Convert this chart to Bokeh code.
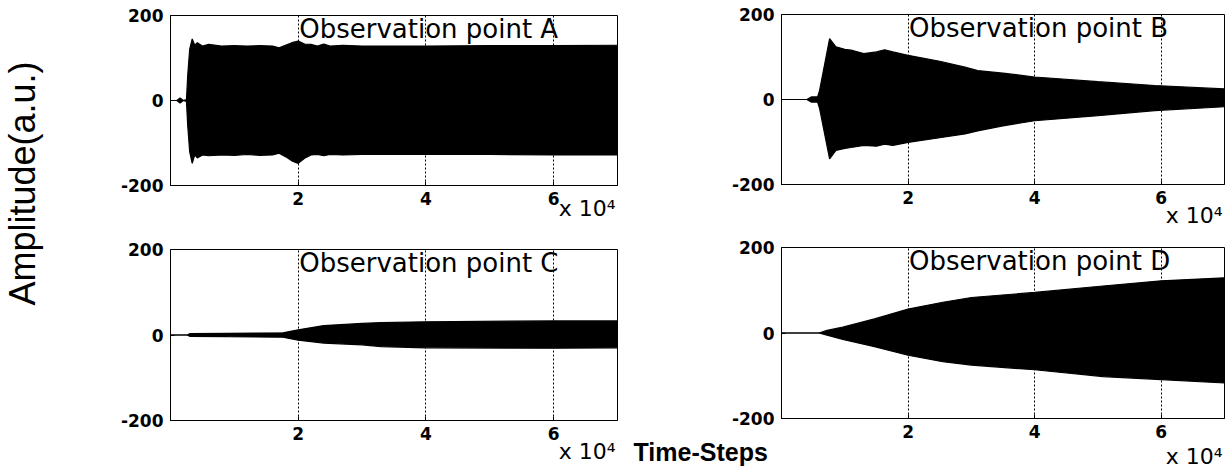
from math import pi
from bokeh.plotting import figure
from bokeh.models import Range1d, FixedTicker, Label, Title
from bokeh.layouts import row, column
from bokeh.embed import file_html
from bokeh.resources import INLINE

# ---------------- data (envelopes) ----------------
t_A = [0, 1000, 1500, 2000, 2500, 2700, 3000, 3400, 3800, 4200, 5000, 6000, 8000, 10000,
       12000, 14000, 16000, 17000, 18000, 19000, 20000, 21000, 22000, 23000, 24000, 25000,
       27000, 30000, 40000, 50000, 60000, 70000]
up_A = [0, 0, 6, 0, 2, 60, 120, 145, 130, 136, 128, 132, 128, 129,
        128, 129, 128, 124, 130, 136, 140, 133, 132, 128, 133, 128,
        130, 128, 128, 129, 129, 130]
lo_A = [0, 0, -6, 0, -2, -60, -120, -148, -128, -135, -128, -130, -128, -129,
        -127, -129, -128, -124, -132, -142, -148, -136, -128, -127, -130, -127,
        -128, -127, -127, -127, -128, -128]

t_B = [0, 4000, 4700, 5700, 6000, 7600, 8600, 10000, 11000, 13000, 15000, 16300, 17600,
       20000, 25000, 29000, 31000, 35000, 40000, 50000, 59000, 70000]
up_B = [0, 0, 6, 6, 20, 143, 124, 118, 116, 108, 112, 117, 112,
        104, 90, 76, 68, 62, 53, 42, 33, 25]
lo_B = [0, 0, -6, -6, -20, -140, -120, -115, -113, -108, -110, -105, -108,
        -101, -90, -81, -74, -62, -50, -38, -26, -17]

t_C = [0, 2600, 3000, 9000, 17600, 20000, 24000, 30000, 33000, 40000, 60000, 70000]
up_C = [0, 0, 3, 4, 5, 12, 22, 27, 29, 31, 33, 33]
lo_C = [0, 0, -3, -4, -5, -12, -19, -23, -27, -30, -31, -30]

t_D = [0, 5900, 7200, 9700, 14700, 20000, 25500, 30000, 40000, 50800, 60000, 70000]
up_D = [0, 0, 6, 14, 33, 56, 72, 83, 95, 110, 122, 129]
lo_D = [0, 0, -5, -15, -32, -52, -67, -75, -86, -102, -109, -117]

titles = ["Observation point A", "Observation point B",
          "Observation point C", "Observation point D"]
x_ticks = [20000, 40000, 60000]
x_tick_labels = ["2", "4", "6"]
y_ticks = [-200, 0, 200]
y_tick_labels = ["-200", "0", "200"]
x_max = 70000
y_label = "Amplitude(a.u.)"
x_label = "Time-Steps"
exp_label = "x 10\u2074"

TICK_FONT = "DejaVu Sans"


def panel(t, up, lo, title, width, height, bl, br, bt, bb):
    p = figure(width=width, height=height,
               x_range=Range1d(0, x_max), y_range=Range1d(-200, 200),
               output_backend="svg", toolbar_location=None,
               min_border_left=bl, min_border_right=br,
               min_border_top=bt, min_border_bottom=bb)
    p.background_fill_color = "white"
    p.border_fill_color = "white"
    p.outline_line_color = "black"
    p.outline_line_width = 1
    p.outline_line_alpha = 1

    p.varea(x=t, y1=lo, y2=up, fill_color="black")
    p.line(t, up, line_color="black", line_width=1.2)
    p.line(t, lo, line_color="black", line_width=1.2)

    for ax in (p.xaxis[0], p.yaxis[0]):
        ax.axis_line_color = "black"
        ax.major_tick_line_color = "black"
        ax.major_tick_in = 4
        ax.major_tick_out = 0
        ax.minor_tick_line_color = None
        ax.major_label_text_font = TICK_FONT
        ax.major_label_text_font_style = "bold"
        ax.major_label_text_font_size = "17px"
        ax.major_label_text_color = "black"
    p.xaxis.ticker = FixedTicker(ticks=x_ticks)
    p.xaxis.major_label_overrides = {k: v for k, v in zip(x_ticks, x_tick_labels)}
    p.xaxis.major_label_standoff = 6
    p.yaxis.ticker = FixedTicker(ticks=y_ticks)
    p.yaxis.major_label_overrides = {k: v for k, v in zip(y_ticks, y_tick_labels)}
    p.yaxis.major_label_standoff = 7

    p.xgrid.grid_line_color = "black"
    p.xgrid.grid_line_dash = "2 2"
    p.xgrid.grid_line_width = 1
    p.ygrid.grid_line_color = None

    p.add_layout(Label(x=20000, y=204, text=title, text_baseline="top",
                       text_align="left", x_offset=1,
                       text_font="DejaVu Sans", text_font_size="26px",
                       text_color="black"))
    return p


def exp_title(standoff):
    return Title(text=exp_label, align="right", vertical_align="top",
                 offset=2, standoff=standoff, text_font="DejaVu Sans",
                 text_font_size="22px", text_font_style="normal",
                 text_color="black")


# layout: ylab 58 | left column 570 | right column 604  (total 1232)
pA = panel(t_A, up_A, lo_A, titles[0], 570, 237, 112, 11, 15, 52)
pB = panel(t_B, up_B, lo_B, titles[1], 604, 237, 152, 8, 14, 53)
pC = panel(t_C, up_C, lo_C, titles[2], 570, 236, 112, 11, 12, 53)
pD = panel(t_D, up_D, lo_D, titles[3], 604, 236, 153, 8, 10, 55)

pA.add_layout(exp_title(-24), "below")
pB.add_layout(exp_title(-8), "below")
pC.add_layout(exp_title(-8), "below")
pD.add_layout(Title(text=x_label, align="left", vertical_align="top",
                    offset=-148, standoff=-6, text_font="Liberation Sans",
                    text_font_style="bold", text_font_size="25px",
                    text_color="black"), "below")
pD.add_layout(exp_title(-42), "below")

ylab = figure(width=58, height=473, x_range=Range1d(0, 58), y_range=Range1d(0, 473),
              output_backend="svg", toolbar_location=None,
              x_axis_type=None, y_axis_type=None,
              min_border_left=0, min_border_right=0, min_border_top=0, min_border_bottom=0)
ylab.outline_line_color = None
ylab.xgrid.visible = False
ylab.ygrid.visible = False
ylab.add_layout(Label(x=22, y=290, text=y_label, angle=pi / 2,
                      text_align="center", text_baseline="middle",
                      text_font="Liberation Sans", text_font_size="36px",
                      text_color="black"))

layout = row(ylab, column(pA, pC), column(pB, pD))

with open("out.html", "w") as f:
    f.write(file_html(layout, INLINE))
